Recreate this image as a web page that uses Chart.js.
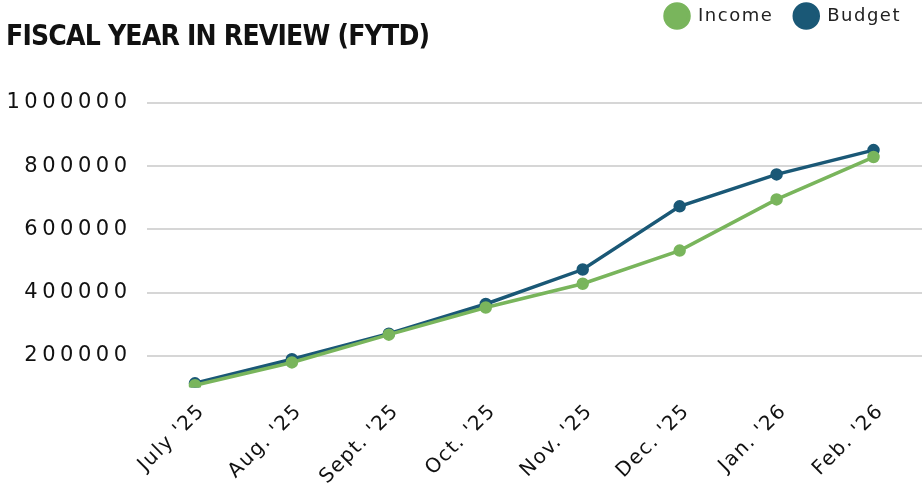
<!DOCTYPE html>
<html>
<head>
<meta charset="utf-8">
<script src="https://cdn.jsdelivr.net/npm/chart.js@4/dist/chart.umd.min.js"></script>
<style>
html,body{margin:0;padding:0;background:#fff;}
#wrap{position:relative;width:924px;height:490px;}
</style>
</head>
<body>
<div id="wrap"><canvas id="c" width="924" height="490"></canvas></div>
<script>
const months = ["July '25","Aug. '25","Sept. '25","Oct. '25","Nov. '25","Dec. '25","Jan. '26","Feb. '26"];
const incomeValues = [107000, 179000, 267000, 353000, 428000, 533000, 695000, 829000];
const budgetValues = [113000, 189000, 270000, 364000, 473000, 673000, 774000, 851000];
const yTickValues = [200000, 400000, 600000, 800000, 1000000];
const titleText = 'FISCAL YEAR IN REVIEW (FYTD)';

const canvas = document.getElementById('c');
const ctx = canvas.getContext('2d');
function spacingFor(t){
  t = String(t);
  if (t === titleText) return '-0.8px';
  if (/^\d+$/.test(t)) return '4.5px';
  return '1.5px';
}
const origFill = ctx.fillText.bind(ctx);
const origMeasure = ctx.measureText.bind(ctx);
ctx.fillText = function(t, x, y, m){ this.letterSpacing = spacingFor(t); return m === undefined ? origFill(t, x, y) : origFill(t, x, y, m); };
ctx.measureText = function(t){ this.letterSpacing = spacingFor(t); return origMeasure(t); };

const GREEN = '#79b55c';
const BLUE = '#1a5876';

new Chart(ctx, {
  type: 'line',
  data: {
    labels: months,
    datasets: [
      { label: 'Income', data: incomeValues, borderColor: GREEN, backgroundColor: GREEN,
        borderWidth: 3.5, pointRadius: 4.5, pointHoverRadius: 4.5, tension: 0 },
      { label: 'Budget', data: budgetValues, borderColor: BLUE, backgroundColor: BLUE,
        borderWidth: 3.5, pointRadius: 4.5, pointHoverRadius: 4.5, tension: 0 }
    ]
  },
  options: {
    responsive: false,
    animation: false,
    layout: { autoPadding: false, padding: { top: -14, right: 2, bottom: -3, left: 6 } },
    plugins: {
      tooltip: { enabled: false },
      legend: {
        position: 'top', align: 'end', weight: 3000,
        labels: {
          usePointStyle: true, pointStyle: 'circle', boxWidth: 18, boxHeight: 17, pointStyleWidth: 24, padding: 21,
          color: '#222', font: { family: 'DejaVu Sans', size: 18 }
        }
      },
      title: {
        display: true, text: titleText, align: 'start', position: 'top', weight: 500,
        color: '#111', font: { family: 'DejaVu Sans Condensed', weight: 'bold', size: 28, lineHeight: 1 },
        padding: { top: -11.5, bottom: 51.5 }
      }
    },
    scales: {
      x: {
        offset: true,
        grid: { display: false },
        border: { display: false },
        afterFit: (s) => { s.paddingLeft = 0; s.paddingRight = 0; },
        ticks: { color: '#111', minRotation: 45, maxRotation: 45, padding: 4, labelOffset: 7,
          font: { family: 'DejaVu Sans', size: 20 } }
      },
      y: {
        min: 100000, max: 1000000,
        afterBuildTicks: (s) => { s.ticks = yTickValues.map(v => ({ value: v })); },
        afterFit: (s) => { s.width = 140.5; },
        grid: { color: '#d6d6d6', lineWidth: 2, drawTicks: false },
        border: { display: false },
        ticks: { color: '#111', padding: 15, font: { family: 'DejaVu Sans', size: 21 },
          callback: (v) => String(v) }
      }
    }
  }
});
</script>
</body>
</html>
